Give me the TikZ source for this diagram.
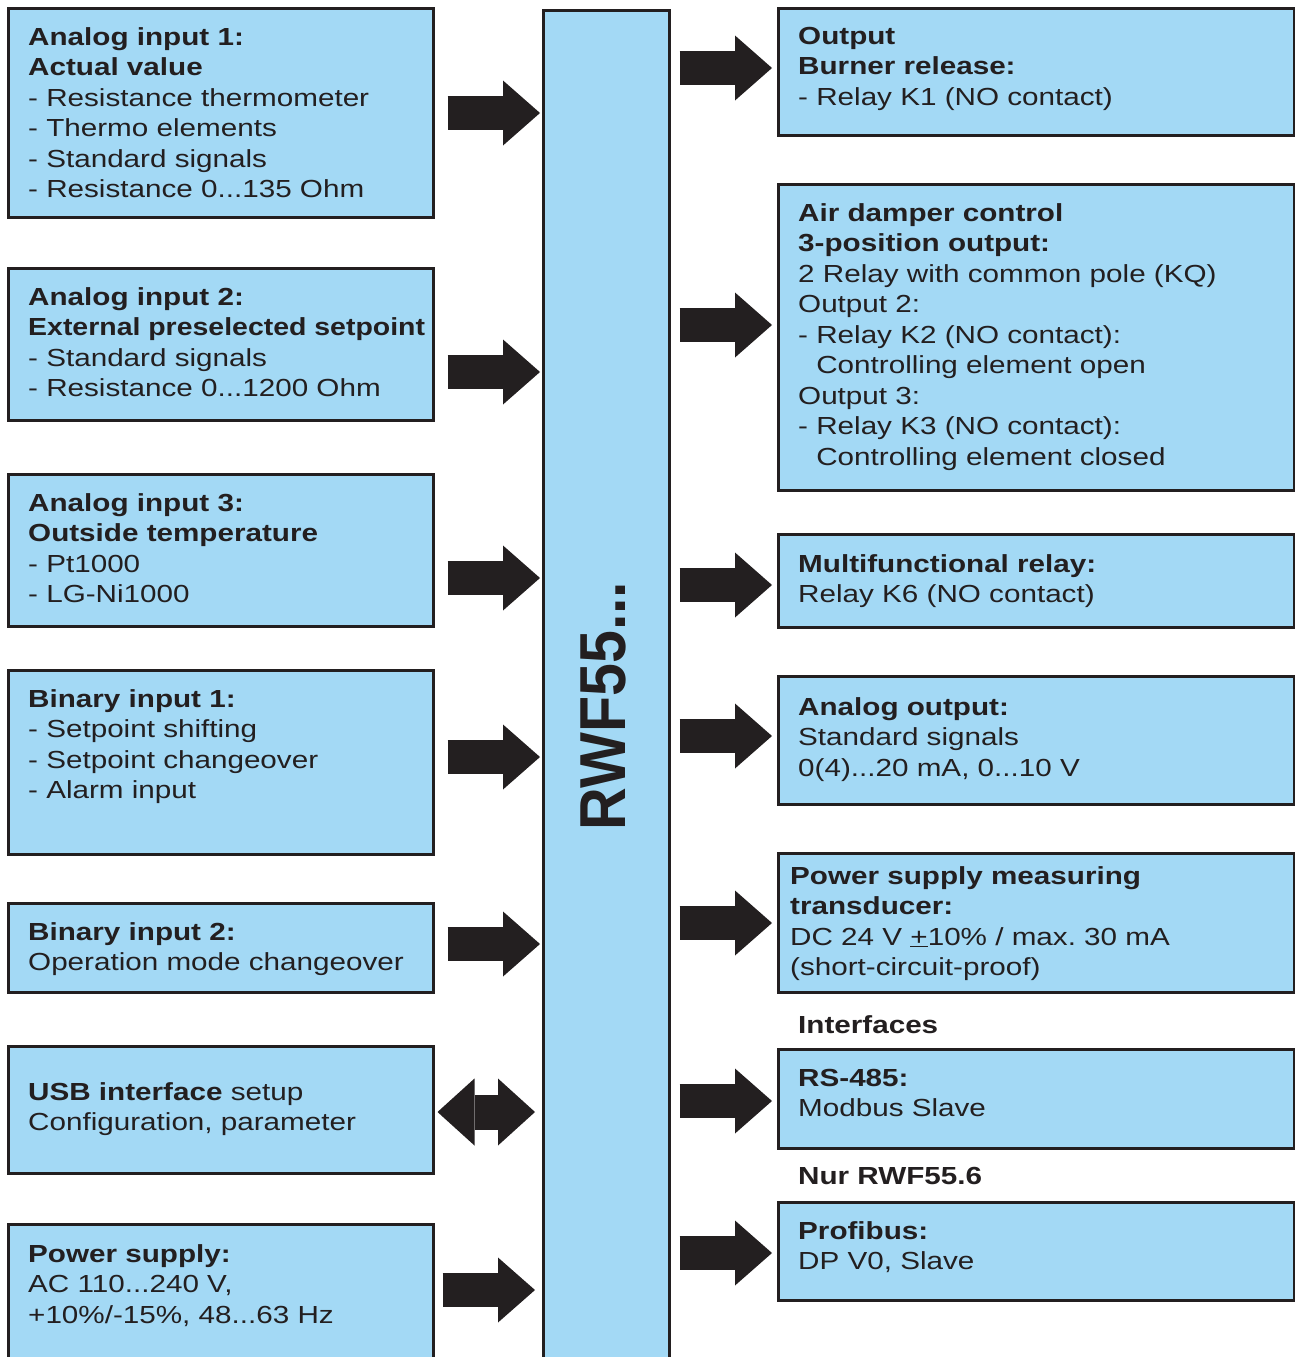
\documentclass[tikz,border=0pt]{standalone}
\usepackage{fontspec}
\setmainfont{Liberation Sans}[FakeStretch=1.2]
\newfontfamily\tagfont{Liberation Sans}[FakeStretch=0.91]
\usetikzlibrary{arrows.meta, positioning}
\definecolor{ink}{RGB}{35,31,32}
\definecolor{panelblue}{RGB}{163,217,245}
\frenchspacing

\tikzset{
  panel/.style={draw=ink, line width=2.5pt, fill=panelblue, anchor=north west, inner sep=0pt},
  txt/.style={anchor=north west, inner sep=0pt, align=left, text=ink, font=\fontsize{24.7}{30.5}\selectfont},
  bigarrow/.style={draw=ink, line width=34pt, -{Triangle[length=37pt, width=65pt, line width=0pt]}},
  bothway/.style={draw=ink, line width=35pt, {Triangle[length=37pt, width=67pt, line width=0pt]}-{Triangle[length=37pt, width=67pt, line width=0pt]}},
}

\begin{document}
\begin{tikzpicture}[x=1pt, y=-1pt]
  \useasboundingbox (0,0) rectangle (1295,1357);
  \clip (0,0) rectangle (1295,1357);

  % inputs
  \node[panel, minimum width=425pt, minimum height=209pt] (L1) at (7,7) {};
  \node[panel, minimum width=425pt, minimum height=152pt] (L2) at (7,267) {};
  \node[panel, minimum width=425pt, minimum height=152pt] (L3) at (7,473) {};
  \node[panel, minimum width=425pt, minimum height=184pt] (L4) at (7,669) {};
  \node[panel, minimum width=425pt, minimum height=89pt] (L5) at (7,902) {};
  \node[panel, minimum width=425pt, minimum height=127pt] (L6) at (7,1045) {};
  \node[panel, minimum width=425pt, minimum height=200pt] (L7) at (7,1223) {};

  \node[txt] (L1text) at ([shift={(21,20)}]L1.north west) {\textbf{Analog input 1:}\\ \textbf{Actual value}\\ - Resistance thermometer\\ - Thermo elements\\ - Standard signals\\ - Resistance 0...135 Ohm};
  \node[txt] (L2text) at ([shift={(21,20)}]L2.north west) {\textbf{Analog input 2:}\\ \scalebox{0.96}[1]{\textbf{External preselected setpoint}}\\ - Standard signals\\ - Resistance 0...1200 Ohm};
  \node[txt] (L3text) at ([shift={(21,20)}]L3.north west) {\textbf{Analog input 3:}\\ \textbf{Outside temperature}\\ - Pt1000\\ - LG-Ni1000};
  \node[txt] (L4text) at ([shift={(21,20)}]L4.north west) {\textbf{Binary input 1:}\\ - Setpoint shifting\\ - Setpoint changeover\\ - Alarm input};
  \node[txt] (L5text) at ([shift={(21,20)}]L5.north west) {\textbf{Binary input 2:}\\ Operation mode changeover};
  \node[txt] (L6text) at ([shift={(21,37)}]L6.north west) {\textbf{USB interface} setup\\ Configuration, parameter};
  \node[txt] (L7text) at ([shift={(21,21)}]L7.north west) {\textbf{Power supply:}\\ AC 110...240 V,\\ +10\%/-15\%, 48...63 Hz};

  % controller
  \node[panel, minimum width=126pt, minimum height=1400pt] (core) at (542,9) {};
  \node[rotate=90, text=ink, font=\tagfont\bfseries\fontsize{65}{65}\selectfont] (tag) at (603.5,706) {RWF55...};

  % outputs
  \node[panel, minimum width=516pt, minimum height=127pt] (R1) at (777,7) {};
  \node[panel, minimum width=516pt, minimum height=306pt] (R2) at (777,183) {};
  \node[panel, minimum width=516pt, minimum height=93pt] (R3) at (777,533) {};
  \node[panel, minimum width=516pt, minimum height=128pt] (R4) at (777,675) {};
  \node[panel, minimum width=516pt, minimum height=139pt] (R5) at (777,852) {};
  \node[panel, minimum width=516pt, minimum height=99pt] (R6) at (777,1048) {};
  \node[panel, minimum width=516pt, minimum height=98pt] (R7) at (777,1201) {};

  \node[txt] (R1text) at ([shift={(21,20)}]R1.north west) {\textbf{Output}\\ \textbf{Burner release:}\\ - Relay K1 (NO contact)};
  \node[txt] (R2text) at ([shift={(21,20)}]R2.north west) {\textbf{Air damper control}\\ \textbf{3-position output:}\\ 2 Relay with common pole (KQ)\\ Output 2:\\ - Relay K2 (NO contact):\\ \phantom{- }Controlling element open\\ Output 3:\\ - Relay K3 (NO contact):\\ \phantom{- }Controlling element closed};
  \node[txt] (R3text) at ([shift={(21,21)}]R3.north west) {\textbf{Multifunctional relay:}\\ Relay K6 (NO contact)};
  \node[txt] (R4text) at ([shift={(21,22)}]R4.north west) {\textbf{Analog output:}\\ Standard signals\\ 0(4)...20 mA, 0...10 V};
  \node[txt] (R5text) at ([shift={(13,14)}]R5.north west) {\textbf{Power supply measuring}\\ \textbf{transducer:}\\ DC 24 V \underline{+}10\% / max. 30 mA\\ (short-circuit-proof)};
  \node[txt] (R6text) at ([shift={(21,21)}]R6.north west) {\textbf{RS-485:}\\ Modbus Slave};
  \node[txt] (R7text) at ([shift={(21,20)}]R7.north west) {\textbf{Profibus:}\\ DP V0, Slave};

  \node[txt] (ifaces) at ([shift={(21,-33)}]R6.north west) {\textbf{Interfaces}};
  \node[txt] (only6) at ([shift={(21,-34)}]R7.north west) {\textbf{Nur RWF55.6}};

  % arrows
  \foreach \src/\y in {L1/113, L2/372, L3/578, L4/757, L5/944}
    \draw[bigarrow, shorten <=13pt, shorten >=2pt] (\src.east |- 0,\y) -- (core.west |- 0,\y);
  \draw[bigarrow, shorten <=8pt, shorten >=7pt] (L7.east |- 0,1290) -- (core.west |- 0,1290);
  \draw[bothway, shorten <=3pt, shorten >=7pt] (L6.east |- 0,1112) -- (core.west |- 0,1112);
  \foreach \dst/\y in {R1/68, R2/325, R3/585, R4/736, R5/923, R6/1101, R7/1253}
    \draw[bigarrow, shorten <=9pt, shorten >=5pt] (core.east |- 0,\y) -- (\dst.west |- 0,\y);
\end{tikzpicture}
\end{document}
